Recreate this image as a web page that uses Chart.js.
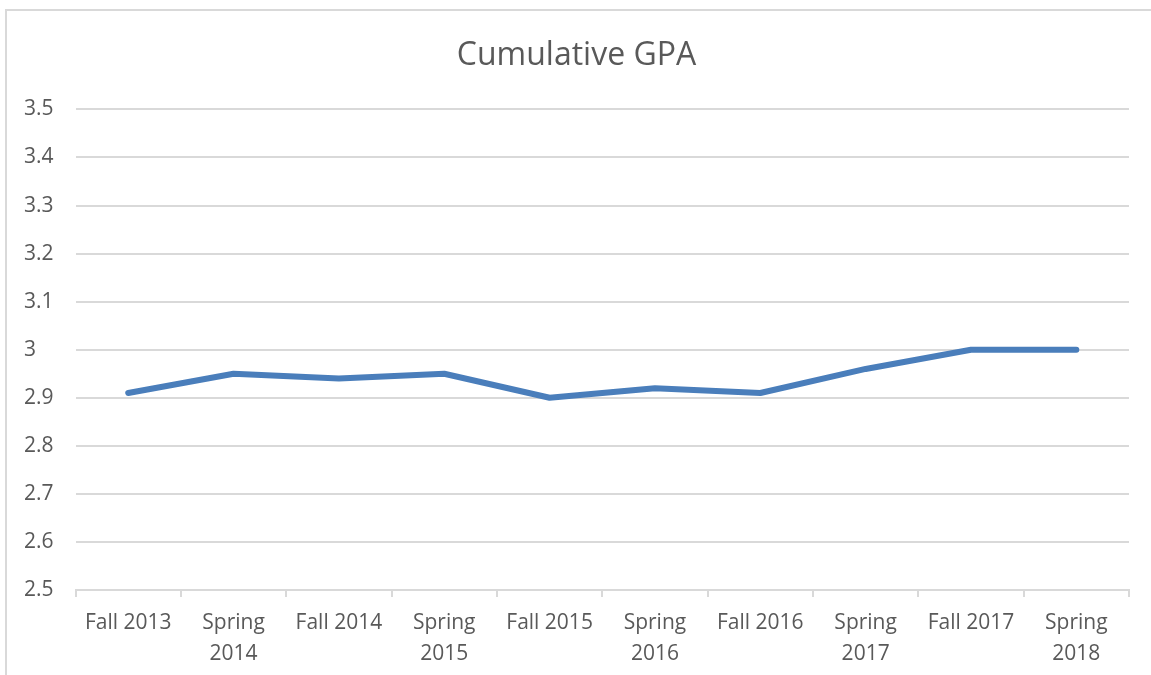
<!DOCTYPE html>
<html>
<head>
<meta charset="utf-8">
<title>Cumulative GPA</title>
<script src="https://cdn.jsdelivr.net/npm/chart.js@4"></script>
<style>
  html, body { margin: 0; padding: 0; background: #ffffff; }
  #frame {
    position: absolute;
    left: 5px; top: 9px;
    width: 1200px; height: 700px;
    border-left: 2px solid #d9d9d9;
    border-top: 2px solid #d9d9d9;
  }
  #wrap { position: absolute; left: 0; top: 0; width: 1151px; height: 675px; }
</style>
</head>
<body>
<div id="frame"></div>
<div id="wrap"><canvas id="gpaChart"></canvas></div>
<script>
// ---- Data ----
const terms = [
  "Fall 2013", ["Spring", "2014"],
  "Fall 2014", ["Spring", "2015"],
  "Fall 2015", ["Spring", "2016"],
  "Fall 2016", ["Spring", "2017"],
  "Fall 2017", ["Spring", "2018"]
];
const gpaValues = [2.91, 2.95, 2.94, 2.95, 2.90, 2.92, 2.91, 2.96, 3.00, 3.00];
const yMin = 2.5;
const yMax = 3.5;
const yStep = 0.1;

// ---- Styles ----
const textColor = "#595959";
const gridColor = "#d9d9d9";
const lineColor = "#4a7ebb";
const fontFamily = "'Open Sans', 'Liberation Sans', sans-serif";

const ctx = document.getElementById("gpaChart").getContext("2d");
new Chart(ctx, {
  type: "line",
  data: {
    labels: terms,
    datasets: [{
      label: "Cumulative GPA",
      data: gpaValues,
      borderColor: lineColor,
      borderWidth: 6,
      borderCapStyle: "round",
      borderJoinStyle: "round",
      pointRadius: 0,
      tension: 0,
      fill: false
    }]
  },
  options: {
    responsive: true,
    maintainAspectRatio: false,
    animation: false,
    layout: { padding: { left: 24, right: 22, top: 0, bottom: -5 } },
    plugins: {
      legend: { display: false },
      tooltip: { enabled: false },
      title: {
        display: true,
        text: "Cumulative GPA",
        color: textColor,
        font: { family: fontFamily, size: 32, weight: "normal" },
        padding: { top: 37, bottom: 34 }
      }
    },
    scales: {
      x: {
        offset: true,
        grid: {
          display: true,
          offset: true,
          drawOnChartArea: false,
          drawTicks: true,
          tickLength: 7,
          color: gridColor,
          lineWidth: 2
        },
        border: { display: true, color: gridColor, width: 2 },
        ticks: {
          color: textColor,
          font: { family: fontFamily, size: 21, lineHeight: 1.5 },
          padding: 10,
          maxRotation: 0,
          autoSkip: false
        }
      },
      y: {
        min: yMin,
        max: yMax,
        grid: { color: gridColor, lineWidth: 2, drawTicks: false },
        border: { display: false },
        ticks: {
          stepSize: yStep,
          color: textColor,
          crossAlign: "far",
          padding: 11,
          font: { family: fontFamily, size: 21 },
          callback: (v) => String(Number(v.toFixed(1)))
        }
      }
    }
  }
});
</script>
</body>
</html>
